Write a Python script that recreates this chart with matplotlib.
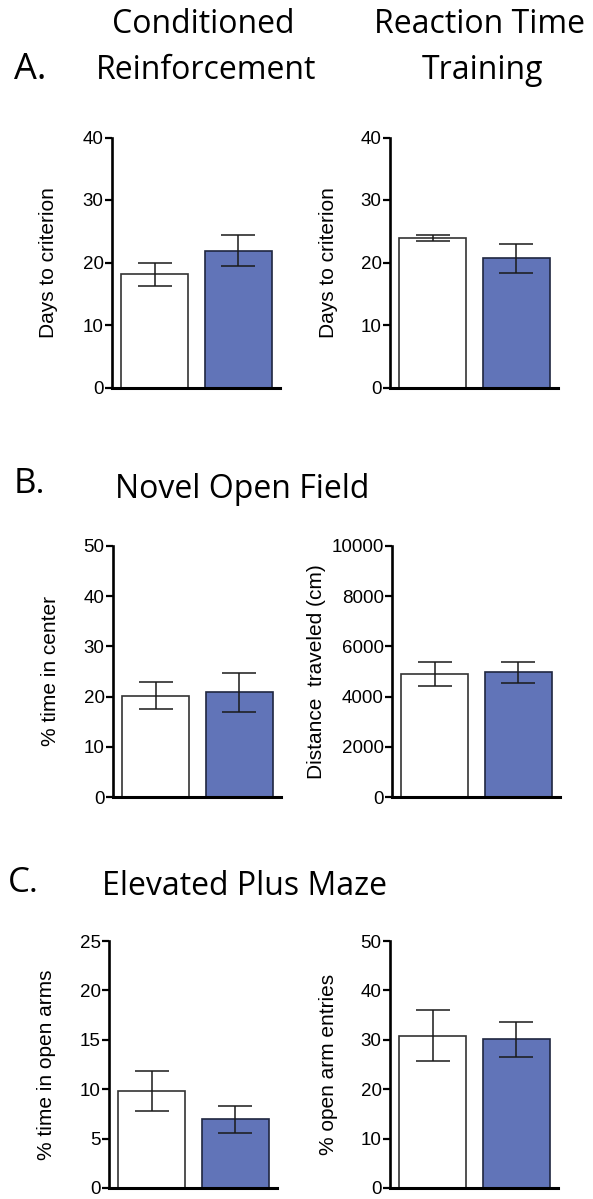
import matplotlib
matplotlib.use("Agg")
import matplotlib.pyplot as plt

# ---- data ----
groups = ["Control", "Treatment"]
cr_days_mean = [18.1, 21.9]
cr_days_sem = [1.8, 2.45]
rt_days_mean = [23.9, 20.7]
rt_days_sem = [0.45, 2.3]
of_center_mean = [20.2, 20.9]
of_center_sem = [2.75, 3.9]
of_dist_mean = [4890, 4970]
of_dist_sem = [480, 427]
epm_time_mean = [9.8, 6.95]
epm_time_sem = [2.05, 1.38]
epm_entries_mean = [30.8, 30.1]
epm_entries_sem = [5.15, 3.5]

ylim_list = [40, 40, 50, 10000, 25, 50]
ystep_list = [10, 10, 10, 2000, 5, 10]
ylabels = ["Days to criterion", "Days to criterion", "% time in center",
           "Distance  traveled (cm)", "% time in open arms", "% open arm entries"]

bar_colors = ["#ffffff", "#6174b8"]
edge_colors = ["#333333", "#1f2640"]

W, H = 593, 1199
fig = plt.figure(figsize=(W / 100, H / 100), dpi=100)

def ax_at(x0, y_bottom_px, w=168, h=250):
    return fig.add_axes([x0 / W, (H - y_bottom_px) / H, w / W, h / H])

panels = [
    (ax_at(112, 387.5), cr_days_mean, cr_days_sem, 49),
    (ax_at(390, 387.5), rt_days_mean, rt_days_sem, 328),
    (ax_at(113, 797, h=251), of_center_mean, of_center_sem, 51),
    (ax_at(392, 797, h=251), of_dist_mean, of_dist_sem, 316),
    (ax_at(109, 1188, h=247), epm_time_mean, epm_time_sem, 47),
    (ax_at(390, 1188, h=247), epm_entries_mean, epm_entries_sem, 328),
]

tick_font = "Liberation Sans"
for i, (ax, mean, sem, lab_x) in enumerate(panels):
    x = list(range(len(groups)))
    ax.bar(x, mean, width=0.8, color=bar_colors, edgecolor=edge_colors,
           linewidth=1.2, zorder=2)
    ax.errorbar(x, mean, yerr=sem, fmt="none", ecolor="#1a1a1a",
                elinewidth=1.1, capsize=12, capthick=1.1, zorder=3)
    ax.set_xlim(-0.51, 1.5)
    ax.set_ylim(0, ylim_list[i])
    ticks = list(range(0, ylim_list[i] + 1, ystep_list[i]))
    ax.set_yticks(ticks)
    ax.set_yticklabels([str(t) for t in ticks], fontfamily=tick_font, fontsize=13.5)
    ax.set_xticks([])
    for s in ["top", "right"]:
        ax.spines[s].set_visible(False)
    ax.spines["left"].set_linewidth(1.9)
    ax.spines["bottom"].set_linewidth(2.2)
    ax.tick_params(axis="y", direction="out", length=5, width=1.6, pad=1.0,
                   colors="black")
    ax.set_ylabel(ylabels[i], fontfamily=tick_font, fontsize=15,
                  rotation=90, va="center", ha="center")
    ax_left_px = ax.get_position().x0 * W
    ax.yaxis.set_label_coords((lab_x - ax_left_px) / (168), 0.5)

title_font = "Open Sans"
tfs = 23
def ftext(xp, yp_baseline, s, size=tfs, ha="center"):
    fig.text(xp / W, (H - yp_baseline) / H, s, fontfamily=title_font,
             fontsize=size, ha=ha, va="baseline")

ftext(203, 33, "Conditioned")
ftext(206, 79, "Reinforcement")
ftext(480, 33, "Reaction Time")
ftext(483, 79, "Training")
ftext(14, 79, "A.", size=26, ha="left")
ftext(14, 493, "B.", size=25, ha="left")
ftext(115, 498, "Novel Open Field", ha="left")
ftext(8, 892, "C.", size=25, ha="left")
ftext(102, 895, "Elevated Plus Maze", ha="left")

fig.savefig("out.png", dpi=100)
